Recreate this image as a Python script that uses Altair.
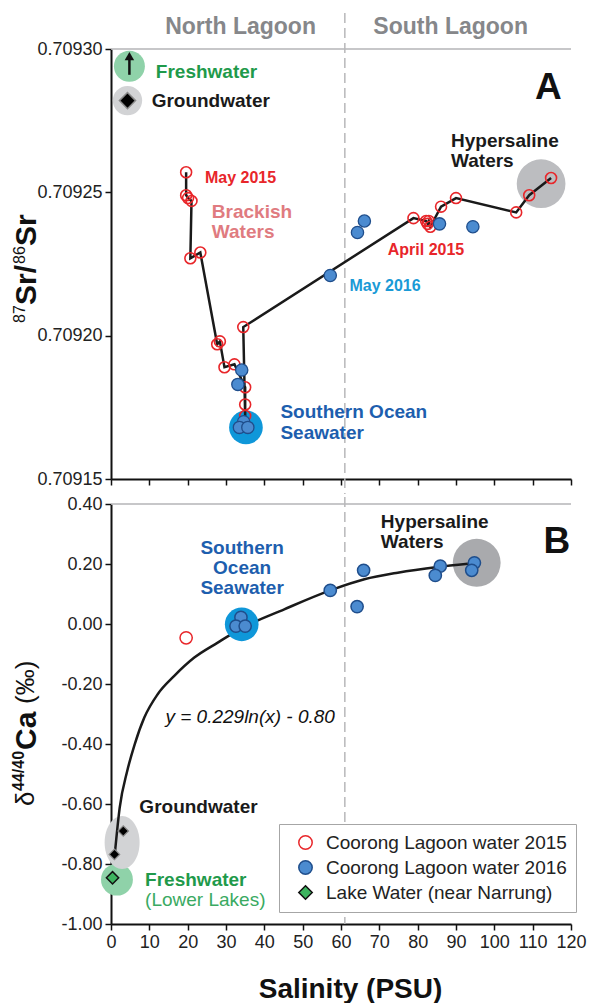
import altair as alt
import pandas as pd

FONT = "Liberation Sans"

# ---------------- Panel A : 87Sr/86Sr vs salinity ----------------
a15_sal = [19.6, 19.6, 20.1, 21.0, 20.7, 23.3, 27.7, 28.4, 29.6, 32.2, 35.0, 35.0, 35.0, 34.5,
           78.9, 82.2, 82.6, 82.9, 83.3, 86.1, 90.0, 105.7, 109.1, 114.8]
a15_sr = [0.709257, 0.709249, 0.709248, 0.709247, 0.709227, 0.709229, 0.709197, 0.709198,
          0.709189, 0.709190, 0.709182, 0.709176, 0.709172, 0.709203,
          0.709241, 0.709240, 0.709239, 0.709240, 0.709238, 0.709245, 0.709248, 0.709243,
          0.709249, 0.709255]
a16_sal = [34.1, 33.1, 34.6, 33.5, 35.7, 57.2, 64.3, 66.1, 85.7, 94.4]
a16_sr = [0.709188, 0.709183, 0.709170, 0.709168, 0.709168, 0.709221, 0.709236, 0.709240,
          0.709239, 0.709238]

a_fresh = {"sal": [4.8], "v": [0.709294]}
a_ground = {"sal": [4.3], "v": [0.709282]}
a_sea = {"sal": [35.2], "v": [0.709168]}
a_hyper = {"sal": [112.2], "v": [0.709253]}
a_arrow = {"sal": [4.8], "v": [0.709291], "v2": [0.7092966], "head": [0.7092975]}

# ---------------- Panel B : d44/40Ca vs salinity ----------------
b15_sal = [19.6]
b15_ca = [-0.046]
b16_sal = [33.9, 32.6, 35.0, 57.2, 65.9, 64.2, 85.9, 84.6, 94.8, 94.1]
b16_ca = [0.022, -0.007, -0.007, 0.112, 0.179, 0.058, 0.193, 0.162, 0.204, 0.179]
lake_sal = [0.4]
lake_ca = [-0.846]
gw_sal = [3.2, 0.9]
gw_ca = [-0.690, -0.768]

fit_sal = [0.99, 2.27, 4.23, 6.18, 8.69, 12.18, 16.51, 21.73, 27.84, 34.36, 45.2, 57.2,
           66.1, 74.8, 85.2, 93.1]
fit_ca = [-0.767, -0.612, -0.490, -0.401, -0.312, -0.234, -0.173, -0.112, -0.062, -0.012,
          0.049, 0.112, 0.149, 0.171, 0.190, 0.201]

b_fresh = {"sal": [1.55], "v": [-0.852]}
b_ground = {"sal": [2.9], "v": [-0.728]}
b_sea = {"sal": [34.1], "v": [-0.001]}
b_hyper = {"sal": [95.4], "v": [0.204]}

SERIES = ["Coorong Lagoon water 2015", "Coorong Lagoon water 2016", "Lake Water (near Narrung)"]

lagoon_div = 61
x_ticks = list(range(0, 121, 10))
ya_ticks = [0.70915, 0.70920, 0.70925, 0.70930]
yb_ticks = [-1.0, -0.8, -0.6, -0.4, -0.2, 0.0, 0.2, 0.4]

# ---------------- scales / axes ----------------
XS = alt.Scale(domain=[0, 120], nice=False, zero=False)
YA = alt.Scale(domain=[0.70915, 0.70930], nice=False, zero=False)
YB = alt.Scale(domain=[-1.0, 0.4], nice=False, zero=False)

AX = dict(grid=False, domainColor="#111111", domainWidth=2, tickColor="#111111", tickWidth=1.5,
          tickSize=6, labelFont=FONT, labelFontSize=18, labelColor="#222222", labelPadding=3,
          labelFlush=False, labelOverlap=False)

xa_axis = alt.Axis(values=x_ticks, labels=False, title=None, **AX)
ya_axis = alt.Axis(values=ya_ticks, format=".5f", title=None, **AX)
xb_axis = alt.Axis(values=x_ticks, title="Salinity (PSU)", titleFont=FONT, titleFontSize=28,
                   titleFontWeight="bold", titleColor="#111111", titlePadding=24, titleX=239,
                   format="d", **AX)
yb_axis = alt.Axis(values=yb_ticks, title=None,
                   labelExpr="(datum.value < -0.0001 ? '-' : '') + format(abs(datum.value), '.2f')",
                   **AX)

PANELS = {"A": (YA, xa_axis, ya_axis), "B": (YB, xb_axis, yb_axis)}


def X(field, p):
    return alt.X(field, scale=XS, axis=PANELS[p][1])


def Y(field, p):
    return alt.Y(field, scale=PANELS[p][0], axis=PANELS[p][2])


def zone(d, p, size, color):
    return alt.Chart(pd.DataFrame(d)).mark_circle(size=size, color=color, opacity=1).encode(
        x=X("sal:Q", p), y=Y("v:Q", p))


def labels(names, xs, ys, p, color, size, weight="bold", align="left", style="normal"):
    df = pd.DataFrame({"t": names, "sal": xs, "v": ys})
    return alt.Chart(df).mark_text(font=FONT, fontSize=size, fontWeight=weight, fontStyle=style,
                                   color=color, align=align, baseline="alphabetic").encode(
        x=X("sal:Q", p), y=Y("v:Q", p), text="t:N")


def vpiece(text, px, py, size, weight):
    return alt.Chart(pd.DataFrame({"t": [text]})).mark_text(
        font=FONT, fontSize=size, fontWeight=weight, angle=270, align="left",
        baseline="alphabetic", color="#111111").encode(
        x=alt.value(px), y=alt.value(py), text="t:N")


# ================= Panel A =================
frame_a = alt.Chart(pd.DataFrame({"sal": [0], "x2": [120], "v": [0.70930]})).mark_rule(
    color="#b5b5b7", strokeWidth=1.5).encode(x=X("sal:Q", "A"), x2="x2:Q", y=Y("v:Q", "A"))

div_a = alt.Chart(pd.DataFrame({"sal": [lagoon_div], "v": [0.7093126], "v2": [0.7091448]})).mark_rule(
    color="#b8b8ba", strokeWidth=1.5, strokeDash=[10, 5]).encode(
    x=X("sal:Q", "A"), y=Y("v:Q", "A"), y2="v2:Q")

df_a15 = pd.DataFrame({"sal": a15_sal, "v": a15_sr, "i": list(range(len(a15_sal)))})
line_a = alt.Chart(df_a15).mark_line(color="#1a1a1a", strokeWidth=2.5).encode(
    x=X("sal:Q", "A"), y=Y("v:Q", "A"), order="i:Q")
pts_a15 = alt.Chart(df_a15).mark_point(shape="circle", size=120, stroke="#e8262a", fill="transparent",
                                       strokeWidth=1.6, opacity=1).encode(
    x=X("sal:Q", "A"), y=Y("v:Q", "A"))
pts_a16 = alt.Chart(pd.DataFrame({"sal": a16_sal, "v": a16_sr})).mark_point(
    shape="circle", size=150, fill="#4b8bd0", stroke="#1f4e8c", strokeWidth=1.3, filled=True,
    opacity=1).encode(x=X("sal:Q", "A"), y=Y("v:Q", "A"))

gw_a = alt.Chart(pd.DataFrame(a_ground)).mark_point(shape="diamond", size=260, fill="#000000",
                                                    stroke="#8a8a8a", strokeWidth=1.5, filled=True,
                                                    opacity=1).encode(
    x=X("sal:Q", "A"), y=Y("v:Q", "A"))
arrow_shaft = alt.Chart(pd.DataFrame(a_arrow)).mark_rule(color="#111111", strokeWidth=2.5).encode(
    x=X("sal:Q", "A"), y=Y("v:Q", "A"), y2="v2:Q")
arrow_head = alt.Chart(pd.DataFrame(a_arrow)).mark_point(shape="triangle-up", size=90, filled=True,
                                                         color="#111111", opacity=1).encode(
    x=X("sal:Q", "A"), y=Y("head:Q", "A"))

txt_a = [
    labels(["North Lagoon", "South Lagoon"], [33.8, 88.6], [0.7093052, 0.7093052], "A",
           "#86878a", 23, align="center"),
    labels(["Freshwater"], [11.7], [0.7092899], "A", "#1f9a4b", 19),
    labels(["Groundwater", "Hypersaline", "Waters"], [10.6, 88.7, 88.7],
           [0.7092798, 0.7092659, 0.7092590], "A", "#1a1a1a", 19),
    labels(["May 2015", "April 2015"], [24.5, 72.2], [0.7092533, 0.7092281], "A", "#e8262a", 16),
    labels(["Brackish", "Waters"], [26.3, 26.3], [0.7092411, 0.7092341], "A", "#e07b80", 19),
    labels(["May 2016"], [62.2], [0.7092156], "A", "#1a9ad6", 16),
    labels(["Southern Ocean", "Seawater"], [44.2, 44.2], [0.7091712, 0.7091640], "A",
           "#1d5eae", 19),
    labels(["A"], [114.1], [0.7092825], "A", "#111111", 37, align="center"),
]

title_a = [
    vpiece("87", -86, 274, 16, "normal"),
    vpiece("Sr/", -75, 256, 30, "bold"),
    vpiece("86", -86, 215, 16, "normal"),
    vpiece("Sr", -75, 197, 30, "bold"),
]

panel_a = alt.layer(
    frame_a, div_a,
    zone(a_fresh, "A", 960, "#8fd2a9"), zone(a_ground, "A", 860, "#d2d3d5"),
    zone(a_sea, "A", 1134, "#0f97d9"), zone(a_hyper, "A", 2376, "#bcbdc0"),
    line_a, pts_a15, pts_a16, gw_a, arrow_shaft, arrow_head, *txt_a, *title_a
).properties(width=460, height=430)

# ================= Panel B =================
frame_b = alt.Chart(pd.DataFrame({"sal": [0], "x2": [120], "v": [0.4]})).mark_rule(
    color="#b5b5b7", strokeWidth=1.5).encode(x=X("sal:Q", "B"), x2="x2:Q", y=Y("v:Q", "B"))

div_b = alt.Chart(pd.DataFrame({"sal": [lagoon_div], "v": [0.4233], "v2": [-1.0]})).mark_rule(
    color="#b8b8ba", strokeWidth=1.5, strokeDash=[10, 5]).encode(
    x=X("sal:Q", "B"), y=Y("v:Q", "B"), y2="v2:Q")

ellipse = "M -0.66 0 A 0.66 1 0 1 0 0.66 0 A 0.66 1 0 1 0 -0.66 0 Z"
gw_zone_b = alt.Chart(pd.DataFrame(b_ground)).mark_point(shape=ellipse, size=2809, filled=True,
                                                         color="#d2d3d5", opacity=1,
                                                         strokeWidth=0).encode(
    x=X("sal:Q", "B"), y=Y("v:Q", "B"))

curve_b = alt.Chart(pd.DataFrame({"sal": fit_sal, "v": fit_ca})).mark_line(
    color="#1a1a1a", strokeWidth=2.5, interpolate="monotone").encode(
    x=X("sal:Q", "B"), y=Y("v:Q", "B"))

df_b = pd.DataFrame({
    "sal": b15_sal + b16_sal + lake_sal,
    "v": b15_ca + b16_ca + lake_ca,
    "series": [SERIES[0]] * len(b15_sal) + [SERIES[1]] * len(b16_sal) + [SERIES[2]] * len(lake_sal),
})
leg = alt.Legend(title=None, orient="none", legendX=168, legendY=320, strokeColor="#a6a6a6",
                 fillColor="white", padding=9, labelFont=FONT, labelFontSize=19,
                 labelColor="#222222", symbolSize=180, rowPadding=4, labelOffset=11,
                 symbolOffset=8, symbolStrokeWidth=1.5, labelLimit=400)
pts_b = alt.Chart(df_b).mark_point(strokeWidth=1.5, size=150, opacity=1).encode(
    x=X("sal:Q", "B"), y=Y("v:Q", "B"),
    fill=alt.Fill("series:N", scale=alt.Scale(domain=SERIES, range=["transparent", "#4b8bd0", "#3db45f"]),
                  legend=leg),
    stroke=alt.Stroke("series:N", scale=alt.Scale(domain=SERIES, range=["#e8262a", "#1f4e8c", "#111111"]),
                      legend=leg),
    shape=alt.Shape("series:N", scale=alt.Scale(domain=SERIES, range=["circle", "circle", "diamond"]),
                    legend=leg),
)

gw_b = alt.Chart(pd.DataFrame({"sal": gw_sal, "v": gw_ca})).mark_point(
    shape="diamond", size=110, fill="#000000", stroke="#8a8a8a", strokeWidth=1.2, filled=True,
    opacity=1).encode(x=X("sal:Q", "B"), y=Y("v:Q", "B"))

txt_b = [
    labels(["Southern", "Ocean", "Seawater"], [34.2, 34.2, 34.2], [0.2323, 0.1657, 0.101], "B",
           "#1d5eae", 19, align="center"),
    labels(["Hypersaline", "Waters", "Groundwater"], [70.4, 70.4, 7.4], [0.319, 0.2523, -0.629],
           "B", "#1a1a1a", 19),
    labels(["Freshwater"], [8.9], [-0.873], "B", "#1f9a4b", 19),
    labels(["(Lower Lakes)"], [8.9], [-0.94], "B", "#3aaa62", 19, weight="normal"),
    labels(["y = 0.229ln(x) - 0.80"], [14.2], [-0.329], "B", "#111111", 19, weight="normal",
           style="italic"),
    labels(["B"], [116.3], [0.2377], "B", "#111111", 37, align="center"),
]

title_b = [
    vpiece("\u03b4", -77, 302, 26, "normal"),
    vpiece("44/40", -87, 287, 16, "bold"),
    vpiece("Ca", -75, 246, 30, "bold"),
    vpiece("(\u2030)", -77, 200, 26, "normal"),
]

panel_b = alt.layer(
    frame_b, div_b,
    zone(b_fresh, "B", 1018, "#8fd2a9"), gw_zone_b, zone(b_hyper, "B", 2290, "#a9aaad"),
    curve_b, zone(b_sea, "B", 1134, "#0f97d9"),
    pts_b, gw_b, *txt_b, *title_b
).properties(width=460, height=420)

chart = alt.vconcat(panel_a, panel_b, spacing=0).resolve_scale(
    fill="independent", stroke="independent", shape="independent"
).resolve_legend(
    fill="independent", stroke="independent", shape="independent"
).configure_view(stroke=None).properties(
    padding={"left": 3, "top": 4, "right": 2, "bottom": 0})

chart.save("out.html", embed_options={"renderer": "svg", "actions": False})
